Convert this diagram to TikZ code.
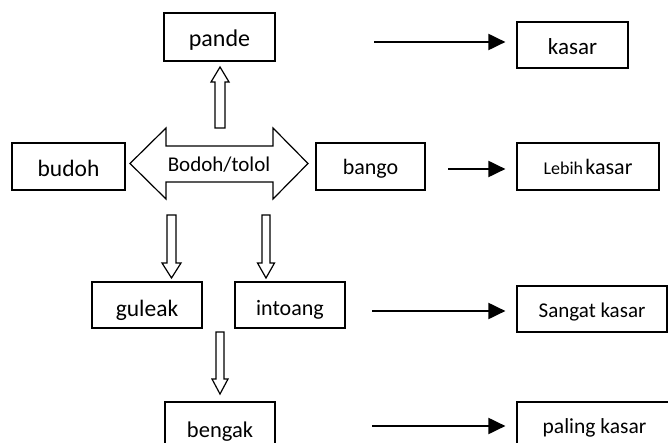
\documentclass[tikz,border=0pt]{standalone}
\usepackage{fontspec}
\setmainfont{Carlito}
\usetikzlibrary{arrows.meta}
\newcommand{\fsz}[1]{\fontsize{#1}{#1}\selectfont}
\begin{document}
\begin{tikzpicture}[x=1pt,y=-1pt,
  box/.style={draw, line width=1.2pt, inner sep=0pt, align=center, text depth=4pt},
  bl/.style={text height=#1},
  blockarrow/.style={draw, fill=white, line width=1.2pt, line join=miter},
  harrow/.style={line width=2pt, -{Triangle[length=17pt,width=16pt]}, shorten >=11pt},
  lbl/.style={inner sep=0pt, text depth=4pt}]
\useasboundingbox (0,0) rectangle (668,443);
\clip (0,0) rectangle (668,443);
% boxes
\node[box, bl=24pt, font=\fsz{24}, minimum width=111pt, minimum height=48pt] (pande) at (219.5,37) {pande};
\node[box, bl=24pt, font=\fsz{23}, minimum width=111pt, minimum height=46pt] (kasar) at (572.5,45) {kasar};
\node[box, bl=25pt, font=\fsz{23.5}, minimum width=113pt, minimum height=47pt] (budoh) at (68.5,166.5) {budoh};
\node[box, bl=21pt, font=\fsz{22}, minimum width=109pt, minimum height=47pt] (bango) at (370.5,166.5) {bango};
\node[box, bl=21pt, minimum width=142pt, minimum height=47pt] (lebih) at (588,166.5) {{\fsz{18}Lebih} {\fsz{22}kasar}};
\node[box, bl=26pt, font=\fsz{23.5}, minimum width=110pt, minimum height=46pt] (guleak) at (147,305) {guleak};
\node[box, bl=24pt, font=\fsz{22}, minimum width=110pt, minimum height=46pt] (intoang) at (290,305) {intoang};
\node[box, bl=20pt, font=\fsz{21}, minimum width=150pt, minimum height=46pt] (sangat) at (592,309) {Sangat kasar};
\node[box, bl=26pt, font=\fsz{22.5}, minimum width=110pt, minimum height=48pt] (bengak) at (220,426) {bengak};
\node[box, bl=18pt, font=\fsz{21.5}, minimum width=155pt, minimum height=48pt] (paling) at (594.5,426) {paling kasar};
% double block arrow with text
\draw[blockarrow] (130,163.5) -- (166,128) -- (166,146) -- (273,146) -- (273,128) -- (308,163.5)
  -- (273,199) -- (273,182) -- (166,182) -- (166,199) -- cycle;
\node[lbl, bl=21pt, font=\fsz{21}] (bodoh) at (219,163.5) {Bodoh/tolol};
% up block arrow to pande
\draw[blockarrow] (215,128) -- (215,82) -- (211,82) -- (220,67) -- (229,82) -- (225,82) -- (225,128) -- cycle;
% down block arrows
\draw[blockarrow] (167,215) -- (167,263) -- (162,263) -- (171.5,278) -- (181,263) -- (176,263) -- (176,215) -- cycle;
\draw[blockarrow] (262,215) -- (262,263) -- (257.5,263) -- (266,278) -- (274.5,263) -- (270,263) -- (270,215) -- cycle;
\draw[blockarrow] (216,332) -- (216,379) -- (212,379) -- (220,394) -- (228,379) -- (224,379) -- (224,332) -- cycle;
% horizontal arrows
\coordinate (s1) at (374,42);
\coordinate (s2) at (448,169);
\coordinate (s3) at (372,311);
\coordinate (s4) at (372,426);
\draw[harrow] (s1) -- (s1 -| kasar.west);
\draw[harrow] (s2) -- (s2 -| lebih.west);
\draw[harrow] (s3) -- (s3 -| sangat.west);
\draw[harrow] (s4) -- (s4 -| paling.west);
\end{tikzpicture}
\end{document}
